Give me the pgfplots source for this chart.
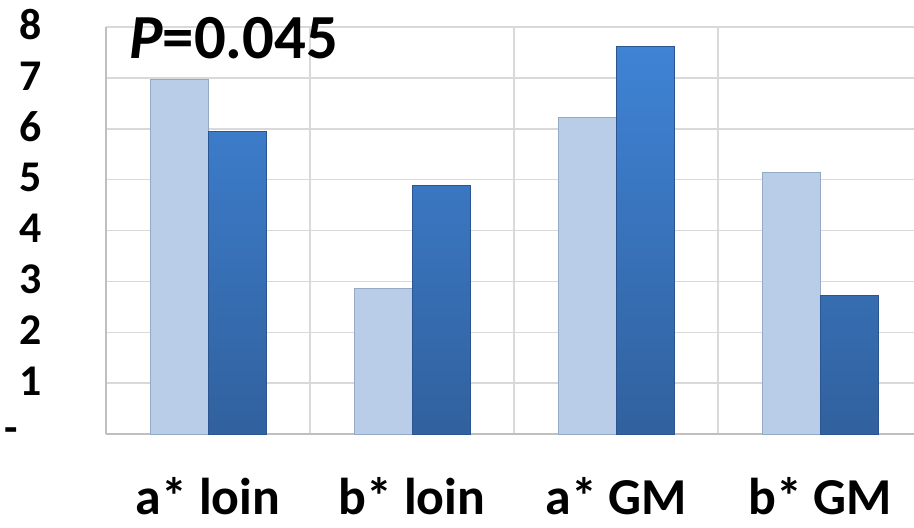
\documentclass[border=0pt]{standalone}
\usepackage{pgfplots}
\pgfplotsset{compat=1.18}
\usepackage{fontspec}
\setmainfont{Carlito}

\definecolor{gridgray}{HTML}{D9D9D9}
\definecolor{axisgray}{HTML}{BFBFBF}
\definecolor{lightmid}{HTML}{C6D9F1}
\definecolor{lightside}{HTML}{B9CDE8}
\definecolor{lightedge}{HTML}{93A9C6}
\definecolor{darktop}{HTML}{3F83D5}
\definecolor{darkbot}{HTML}{31619E}
\definecolor{darkedge}{HTML}{2B5590}

\begin{document}
\begin{tikzpicture}
\begin{axis}[
  scale only axis,
  width=808bp, height=407bp,
  xmin=-0.5, xmax=3.46,
  ymin=0, ymax=8,
  ybar=0pt, bar width=58bp,
  xtick={0,1,2,3},
  xticklabels={a* loin, b* loin, a* GM, b* GM},
  ytick={0,1,2,3,4,5,6,7,8},
  yticklabels={{\smash{\raisebox{-10bp}{-}}\hspace*{24bp}},1,2,3,4,5,6,7,8},
  minor xtick={0.5,1.5,2.5},
  xminorgrids, ymajorgrids,
  major grid style={gridgray, line width=1.5bp},
  minor grid style={gridgray, line width=1.5bp},
  axis x line*=bottom, axis y line*=left,
  axis line style={axisgray, line width=1.8bp},
  major tick length=0pt, minor tick length=0pt,
  /pgf/number format/assume math mode=true,
  yticklabel style={font=\fontsize{44}{44}\selectfont\bfseries, anchor=east, inner sep=0pt, xshift=-64bp, yshift=2bp},
  xticklabel style={font=\fontsize{52}{52}\selectfont\bfseries, anchor=north, inner sep=0pt,
    text height=0.74em, text depth=0pt, yshift=-73bp},
  clip=false,
]
\addplot[left color=lightside, middle color=lightmid, right color=lightside, draw=lightedge, line width=0.8bp]
  coordinates {(0,6.97) (1,2.86) (2,6.22) (3,5.14)};
\addplot[top color=darktop, bottom color=darkbot, draw=darkedge, line width=0.8bp]
  coordinates {(0,5.94) (1,4.89) (2,7.61) (3,2.72)};
\node[anchor=base west, inner sep=0pt, font=\fontsize{63}{63}\selectfont\bfseries]
  at (axis cs:-0.5,8) [xshift=23bp, yshift=-31bp] {\textit{P}=0.045};
\end{axis}
\pgfresetboundingbox
\useasboundingbox (-106bp,-94bp) rectangle (808bp,434bp);
\end{tikzpicture}
\end{document}
